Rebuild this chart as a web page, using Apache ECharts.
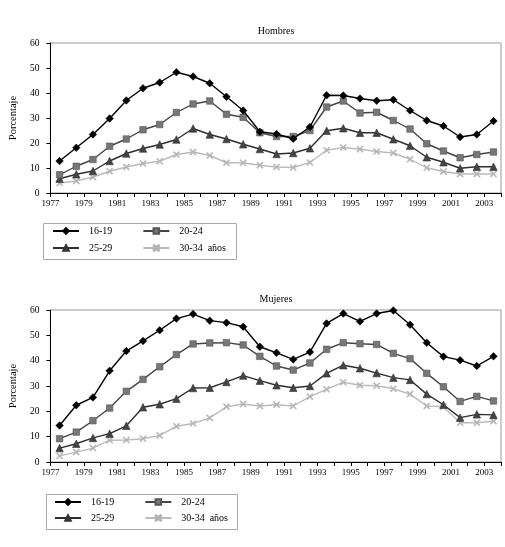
<!DOCTYPE html>
<html>
<head>
<meta charset="utf-8">
<script src="https://cdn.jsdelivr.net/npm/echarts@6/dist/echarts.min.js"></script>
<style>
  html, body { margin: 0; padding: 0; background: #fff; }
  #chart { width: 505px; height: 547px; }
</style>
</head>
<body>
<div id="chart"></div>
<script>
// años (puntos a mitad de año)
const years = [1977, 1978, 1979, 1980, 1981, 1982, 1983, 1984, 1985, 1986, 1987, 1988, 1989, 1990,
  1991, 1992, 1993, 1994, 1995, 1996, 1997, 1998, 1999, 2000, 2001, 2002, 2003];
const xTickLabels = [1977, 1979, 1981, 1983, 1985, 1987, 1989, 1991, 1993, 1995, 1997, 1999, 2001, 2003];
const groups = ['16-19', '20-24', '25-29', '30-34  años'];

// Hombres
const h1619 = [12.8, 18.1, 23.4, 29.8, 37.0, 41.9, 44.2, 48.3, 46.6, 43.9, 38.5, 33.0, 24.5, 23.6,
  21.7, 26.4, 39.1, 39.0, 37.8, 36.9, 37.3, 33.0, 29.0, 26.8, 22.4, 23.4, 28.8];
const h2024 = [7.3, 10.7, 13.4, 18.7, 21.6, 25.3, 27.4, 32.2, 35.6, 36.8, 31.5, 30.3, 24.1, 22.6,
  22.6, 25.0, 34.4, 36.8, 32.0, 32.3, 29.0, 25.6, 19.7, 16.8, 14.1, 15.4, 16.4];
const h2529 = [5.7, 7.5, 8.8, 12.8, 15.8, 17.8, 19.4, 21.4, 25.8, 23.4, 21.6, 19.5, 17.6, 15.6,
  16.0, 17.9, 24.9, 25.9, 24.1, 24.1, 21.5, 18.9, 14.3, 12.3, 9.9, 10.5, 10.5];
const h3034 = [4.0, 4.8, 6.4, 8.7, 10.4, 11.8, 12.7, 15.4, 16.4, 15.0, 12.1, 12.1, 11.1, 10.4,
  10.2, 12.2, 17.1, 18.2, 17.5, 16.6, 16.0, 13.5, 10.1, 8.6, 7.6, 7.6, 7.6];

// Mujeres
const m1619 = [14.4, 22.4, 25.5, 36.0, 43.8, 47.8, 52.0, 56.6, 58.4, 55.8, 55.0, 53.4, 45.5, 43.1,
  40.5, 43.4, 54.7, 58.6, 55.5, 58.6, 59.8, 54.2, 47.1, 41.6, 40.2, 37.9, 41.7];
const m2024 = [9.2, 11.8, 16.3, 21.3, 27.9, 32.6, 37.6, 42.4, 46.6, 47.0, 47.1, 46.2, 41.7, 37.9,
  36.3, 39.1, 44.5, 47.1, 46.7, 46.4, 42.9, 40.8, 35.0, 29.7, 23.9, 25.9, 24.1];
const m2529 = [5.5, 7.2, 9.5, 11.2, 14.3, 21.6, 22.8, 25.0, 29.2, 29.3, 31.6, 34.1, 32.1, 30.3,
  29.3, 30.0, 35.0, 38.2, 37.0, 35.1, 33.3, 32.4, 26.8, 22.6, 17.5, 18.8, 18.6];
const m3034 = [2.4, 3.9, 5.5, 8.6, 8.7, 9.2, 10.5, 14.1, 15.2, 17.4, 21.8, 22.9, 22.1, 22.6,
  22.1, 25.8, 28.7, 31.5, 30.3, 30.1, 28.9, 26.8, 22.1, 21.8, 15.5, 15.5, 16.1];

const serif = '"Liberation Serif", "DejaVu Serif", serif';
const xMark = 'path://M0,1.2 L1.2,0 L5,3.8 L8.8,0 L10,1.2 L6.2,5 L10,8.8 L8.8,10 L5,6.2 L1.2,10 L0,8.8 L3.8,5 Z';

const styles = [
  { symbol: 'diamond', size: 7.5, line: '#000', fill: '#000', border: '#000' },
  { symbol: 'rect', size: 6.5, line: '#444', fill: '#777', border: '#555' },
  { symbol: 'triangle', size: 7.5, line: '#2e2e2e', fill: '#444', border: '#333' },
  { symbol: xMark, size: 6.5, line: '#bbb', fill: '#b3b3b3', border: '#b3b3b3' }
];

const chart = echarts.init(document.getElementById('chart'));

function makeSeries(values, idx, gridIdx) {
  const s = styles[idx];
  return {
    name: groups[idx],
    type: 'line',
    xAxisIndex: gridIdx,
    yAxisIndex: gridIdx,
    data: years.map((y, i) => [y + 0.55, values[i]]),
    symbol: s.symbol,
    symbolSize: s.size,
    showAllSymbol: true,
    lineStyle: { color: s.line, width: 1.4 },
    itemStyle: { color: s.fill, borderColor: s.border, borderWidth: 0.6 },
    emphasis: { disabled: true },
    z: 10 - idx
  };
}

function makeX(gridIdx) {
  return {
    type: 'value', gridIndex: gridIdx,
    min: 1977, max: 2004, interval: 1,
    axisLine: { lineStyle: { color: '#000', width: 1 } },
    axisTick: { show: true, length: 4, lineStyle: { color: '#000' } },
    splitLine: { show: false },
    axisLabel: {
      color: '#000', fontFamily: serif, fontSize: 9, margin: 6,
      formatter: v => xTickLabels.indexOf(v) >= 0 ? String(v) : ''
    }
  };
}

function makeY(gridIdx) {
  return {
    type: 'value', gridIndex: gridIdx,
    min: 0, max: 60, interval: 10,
    name: 'Porcentaje', nameLocation: 'middle', nameGap: 29, nameRotate: 90,
    nameTextStyle: { color: '#000', fontFamily: serif, fontSize: 10.5 },
    axisLine: { show: true, lineStyle: { color: '#000', width: 1 } },
    axisTick: { show: true, length: 4, lineStyle: { color: '#000' } },
    splitLine: { show: false },
    axisLabel: { color: '#000', fontFamily: serif, fontSize: 9.5, margin: 11 }
  };
}

function makeLegend(names, left, top) {
  return {
    data: names, left: left, top: top, padding: 0, itemGap: 30,
    itemWidth: 26, itemHeight: 7, selectedMode: false,
    textStyle: { color: '#000', fontFamily: serif, fontSize: 10, padding: [0, 0, 0, 5] }
  };
}

const option = {
  animation: false,
  backgroundColor: '#fff',
  title: [
    { text: 'Hombres', left: 271, top: 21, textAlign: 'center',
      textStyle: { fontFamily: serif, fontSize: 10, fontWeight: 'normal', color: '#000' } },
    { text: 'Mujeres', left: 271, top: 289, textAlign: 'center',
      textStyle: { fontFamily: serif, fontSize: 10, fontWeight: 'normal', color: '#000' } }
  ],
  grid: [
    { left: 42, top: 43, width: 459, height: 150, show: true, borderColor: '#999', borderWidth: 1 },
    { left: 42, top: 310, width: 459, height: 152, show: true, borderColor: '#999', borderWidth: 1 }
  ],
  legend: [
    makeLegend([groups[0], groups[1]], 52, 226),
    makeLegend([groups[2], groups[3]], 52, 243),
    makeLegend([groups[0], groups[1]], 54, 497),
    makeLegend([groups[2], groups[3]], 54, 513)
  ],
  // recuadro de las leyendas
  graphic: [
    { type: 'rect', shape: { x: 43.5, y: 223.5, width: 193, height: 36 },
      style: { fill: 'none', stroke: '#aaa', lineWidth: 1 }, silent: true },
    { type: 'rect', shape: { x: 46.5, y: 494.5, width: 191, height: 35 },
      style: { fill: 'none', stroke: '#aaa', lineWidth: 1 }, silent: true }
  ],
  xAxis: [makeX(0), makeX(1)],
  yAxis: [makeY(0), makeY(1)],
  series: [
    makeSeries(h1619, 0, 0), makeSeries(h2024, 1, 0), makeSeries(h2529, 2, 0), makeSeries(h3034, 3, 0),
    makeSeries(m1619, 0, 1), makeSeries(m2024, 1, 1), makeSeries(m2529, 2, 1), makeSeries(m3034, 3, 1)
  ]
};

chart.setOption(option);
</script>
</body>
</html>
